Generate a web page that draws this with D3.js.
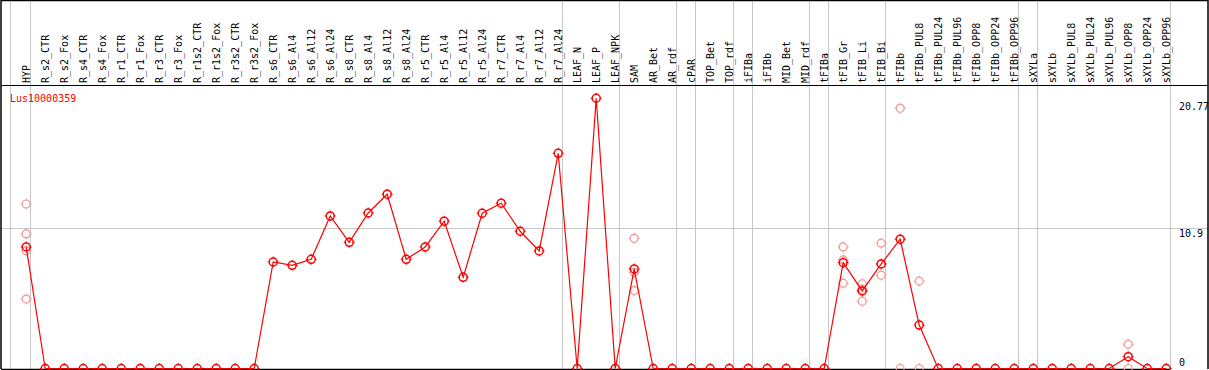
<!DOCTYPE html>
<html>
<head>
<meta charset="utf-8">
<script src="https://cdn.jsdelivr.net/npm/d3@7"></script>
<style>
  body { margin: 0; background: #fff; }
  .chart svg { display: block; }
</style>
</head>
<body>
<div class="chart"></div>
<script>
const geneId = 'Lus10000359';

const categories = [
  'HYP', 'R_s2_CTR', 'R_s2_Fox', 'R_s4_CTR', 'R_s4_Fox', 'R_r1_CTR', 'R_r1_Fox',
  'R_r3_CTR', 'R_r3_Fox', 'R_r1s2_CTR', 'R_r1s2_Fox', 'R_r3s2_CTR', 'R_r3s2_Fox',
  'R_s6_CTR', 'R_s6_Al4', 'R_s6_Al12', 'R_s6_Al24', 'R_s8_CTR', 'R_s8_Al4',
  'R_s8_Al12', 'R_s8_Al24', 'R_r5_CTR', 'R_r5_Al4', 'R_r5_Al12', 'R_r5_Al24',
  'R_r7_CTR', 'R_r7_Al4', 'R_r7_Al12', 'R_r7_Al24', 'LEAF_N', 'LEAF_P', 'LEAF_NPK',
  'SAM', 'AR_Bet', 'AR_rdf', 'cPAR', 'TOP_Bet', 'TOP_rdf', 'iFIBa', 'iFIBb',
  'MID_Bet', 'MID_rdf', 'tFIBa', 'tFIB_Gr', 'tFIB_Li', 'tFIB_Bi', 'tFIBb',
  'tFIBb_PUL8', 'tFIBb_PUL24', 'tFIBb_PUL96', 'tFIBb_OPP8', 'tFIBb_OPP24', 'tFIBb_OPP96',
  'sXYLa', 'sXYLb', 'sXYLb_PUL8', 'sXYLb_PUL24', 'sXYLb_PUL96', 'sXYLb_OPP8',
  'sXYLb_OPP24', 'sXYLb_OPP96'
];

// mean expression per sample
const means = [
  9.45, 0, 0, 0, 0, 0, 0, 0, 0, 0, 0, 0, 0,
  8.28, 8.02, 8.49, 11.86, 9.81, 12.09, 13.55, 8.49,
  9.45, 11.45, 7.09, 12.07, 12.85, 10.67, 9.14, 16.73,
  0, 21.01, 0, 7.74, 0, 0, 0, 0, 0, 0, 0, 0, 0, 0,
  8.23, 6.03, 8.13, 10.05, 3.38, 0, 0, 0, 0, 0,
  0, 0, 0, 0, 0, 0.92, 0, 0
];

// individual replicates [sample, value]
const replicates = [
  ['HYP', 12.79], ['HYP', 10.46], ['HYP', 9.16], ['HYP', 5.4],
  ['SAM', 10.12], ['SAM', 7.48], ['SAM', 6.05],
  ['tFIB_Gr', 9.45], ['tFIB_Gr', 8.44], ['tFIB_Gr', 6.63],
  ['tFIB_Li', 6.59], ['tFIB_Li', 6.16], ['tFIB_Li', 5.23],
  ['tFIB_Bi', 9.74], ['tFIB_Bi', 7.25],
  ['tFIBb', 20.23], ['tFIBb', 0],
  ['tFIBb_PUL8', 6.8], ['tFIBb_PUL8', 0],
  ['sXYLb_OPP8', 1.88], ['sXYLb_OPP8', 0]
];

// tissue groups end after these samples
const groupEnds = ['HYP', 'R_r7_Al24', 'LEAF_NPK', 'AR_rdf', 'cPAR', 'TOP_rdf',
  'iFIBa', 'MID_rdf', 'tFIBa', 'tFIB_Bi', 'tFIBb_OPP96', 'sXYLa', 'sXYLb_OPP96'];

const yLabels = [0, 10.9, 20.77];
const yGrid = [10.9];

function drawChart() {
  const width = 1209;
  const height = 370;
  const headerY = 85;
  const bottomY = 369;
  const red = '#ff0000';
  const pink = '#f29a9a';
  const grid = '#c8c8c8';
  const font = '"DejaVu Sans Mono", monospace';

  const svg = d3.select('.chart')
                .append('svg:svg')
                .attr('width', width)
                .attr('height', height);

  const x = d3.scalePoint()
              .domain(categories)
              .range([26.2, 1166.2]);

  const y = d3.scaleLinear()
              .domain([0, 10.9])
              .range([368.5, 228.3]);

  // vertical group separators
  svg.append('svg:line')
     .attr('x1', 10.5).attr('x2', 10.5)
     .attr('y1', 0).attr('y2', bottomY)
     .attr('stroke', grid);

  svg.selectAll('line.sep')
     .data(groupEnds)
     .enter().append('svg:line')
     .attr('class', 'sep')
     .attr('x1', d => Math.round(x(d) + 4) + 0.5)
     .attr('x2', d => Math.round(x(d) + 4) + 0.5)
     .attr('y1', 0)
     .attr('y2', bottomY)
     .attr('stroke', grid);

  svg.selectAll('line.hgrid')
     .data(yGrid)
     .enter().append('svg:line')
     .attr('class', 'hgrid')
     .attr('x1', 1).attr('x2', width - 1)
     .attr('y1', d => Math.round(y(d)) + 0.5)
     .attr('y2', d => Math.round(y(d)) + 0.5)
     .attr('stroke', grid);

  // frame
  svg.append('svg:path')
     .attr('d', `M1,${bottomY}V0.5H${width - 1}V${bottomY}`)
     .attr('fill', 'none')
     .attr('stroke', '#000')
     .attr('stroke-width', 1.5);

  svg.append('svg:line')
     .attr('x1', 1).attr('x2', width - 1)
     .attr('y1', headerY + 0.5).attr('y2', headerY + 0.5)
     .attr('stroke', '#000')
     .attr('stroke-width', 1.2);

  svg.append('svg:line')
     .attr('x1', 1).attr('x2', x(categories[categories.length - 1]) + 4)
     .attr('y1', bottomY + 0.5).attr('y2', bottomY + 0.5)
     .attr('stroke', '#000')
     .attr('stroke-width', 1.5);

  // sample labels
  svg.selectAll('text.cat')
     .data(categories)
     .enter().append('svg:text')
     .attr('class', 'cat')
     .attr('transform', d => `translate(${x(d) + 3.5},83) rotate(-90)`)
     .attr('text-anchor', 'start')
     .attr('font-family', font)
     .attr('font-size', 10)
     .attr('fill', '#000')
     .text(d => d);

  svg.append('svg:text')
     .attr('x', 10)
     .attr('y', 101.5)
     .attr('font-family', font)
     .attr('font-size', 10)
     .attr('fill', red)
     .text(geneId);

  svg.selectAll('text.ylab')
     .data(yLabels)
     .enter().append('svg:text')
     .attr('class', 'ylab')
     .attr('x', 1179)
     .attr('y', d => Math.min(y(d) + 9, 366))
     .attr('font-family', font)
     .attr('font-size', 10)
     .attr('fill', '#000')
     .text(d => d);

  const marker = (sel, color, sw) => {
    sel.append('svg:circle')
       .attr('r', 4)
       .attr('fill', 'none')
       .attr('stroke', color)
       .attr('stroke-width', sw);
    sel.append('svg:path')
       .attr('d', 'M0,-5.5V-3.5M0,3.5V5.5M-5.5,0H-3.5M3.5,0H5.5')
       .attr('stroke', color)
       .attr('stroke-width', 1);
  };

  svg.selectAll('g.rep')
     .data(replicates)
     .enter().append('svg:g')
     .attr('class', 'rep')
     .attr('transform', d => `translate(${x(d[0])},${y(d[1])})`)
     .call(marker, pink, 1.2);

  const line = d3.line()
                 .x((d, i) => x(categories[i]))
                 .y(d => y(d));

  svg.append('svg:path')
     .attr('d', line(means))
     .attr('fill', 'none')
     .attr('stroke', red)
     .attr('stroke-width', 1.2);

  svg.selectAll('g.mean')
     .data(means)
     .enter().append('svg:g')
     .attr('class', 'mean')
     .attr('transform', (d, i) => `translate(${x(categories[i])},${y(d)})`)
     .call(marker, red, 1.5);
}

drawChart();
</script>
</body>
</html>
